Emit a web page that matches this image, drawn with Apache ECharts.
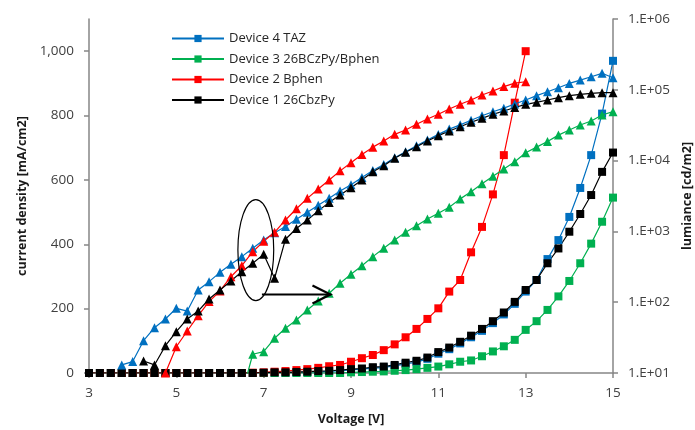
<!DOCTYPE html>
<html><head><meta charset="utf-8">
<script src="https://cdn.jsdelivr.net/npm/echarts@6/dist/echarts.min.js"></script>
<style>html,body{margin:0;padding:0;background:#fff}#c{width:695px;height:430px}</style>
</head><body><div id="c"></div>
<script>
// ---- data ----
const voltage = [3,3.25,3.5,3.75,4,4.25,4.5,4.75,5,5.25,5.5,5.75,6,6.25,6.5,6.75,7,7.25,7.5,7.75,8,8.25,8.5,8.75,9,9.25,9.5,9.75,10,10.25,10.5,10.75,11,11.25,11.5,11.75,12,12.25,12.5,12.75,13,13.25,13.5,13.75,14,14.25,14.5,14.75,15];
const xTicks = [3,5,7,9,11,13,15];
const leftTicks = [0,200,400,600,800,1000];
const rightTicks = [10,100,1000,10000,100000,1000000];
const deviceNames = ['Device 4 TAZ','Device 3 26BCzPy/Bphen','Device 2 Bphen','Device 1 26CbzPy'];

// current density [mA/cm2] (squares, left axis)
const jDev4 = [0,0,0,0,0,0,0,0,0,0,0,0,0,0,0,0, 0,1,1,2,3,4,5,7,10,12,15,17,22,28,34,44,60,74,92,111,131,155,182,215,253,289,354,413,485,575,677,806,970];
const jDev3 = [0,0,0,0,0,0,0,0,0,0,0,0,0,0,0,0,0,0,0,0,0,0,0,0, 2,3,4,5,7,9,12,16,20,27,35,39,52,67,83,103,134,161,196,238,286,341,402,470,545];
const jDev2 = [0,0,0,0,0,0,0,0,0,0,0,0,0,0,0, 1,2,4,6,9,12,16,21,25,35,46,56,71,89,111,137,168,201,253,289,375,454,555,677,840,1000, null,null,null,null,null,null,null,null];
const jDev1 = [0,0,0,0,0,0,0,0,0,0,0,0,0,0,0,0, 1,2,2,3,4,6,7,9,12,14,18,20,25,32,38,48,65,79,97,116,137,161,188,221,258,289,341,387,439,494,553,625,685];

// luminance [cd/m2] (triangles, right log axis)
const lDev4 = [null,null,null, 13,14.5,28.6,43.6,58,82,75,149,195,264,343,440,577,755,955,1175,1480,1860,2340,2950,3720,4570,5750,7240,8810,10960,13340,16220,19500,23440,27860,32000,37150,42950,49000,55000,63100,71800,82600,94000,107000,123000,137000,153000,171000,148000];
const lDev3 = [null,null,null,null,null,null,null,null,null,null,null,null,null,null, 5,18.4,20,30.9,42.8,56.1,77.6,104,134,185,248,328,440,577,755,970,1205,1496,1800,2190,2880,3630,4700,6030,7590,9660,12900,15500,18600,22900,27000,31800,36300,44100,49100];
const lDev2 = [null,null,null,null,null,null,null, 10,23.5,39.2,64.6,102,144,229,328,516,724,970,1450,2090,2930,3970,5320,7160,9330,12160,15490,18900,23500,27000,32600,38700,45100,53600,62400,71800,84500,96200,111000,124000,130000, null,null,null,null,null,null,null,null];
const lDev1 = [null,null,null,null,null, 14.8,13,24.3,38.4,58,75,111,149,199,270,354,474,218,776,1100,1450,1950,2570,3270,4140,5320,6970,8470,10800,13100,15700,18900,22500,26200,30100,34800,39500,45100,50100,56200,62400,66500,71800,77400,82600,86300,89300,91000,91000];

// annotation (data units)
const annEllipse = {v: 6.82, j: 382, rv: 0.41, rj: 157};
const annArrow = {from: [6.96, 244], to: [8.53, 244]};

// ---- chart ----
const colors = ['#0070C0','#00B050','#FF0000','#000000'];
const jSets = [jDev4, jDev3, jDev2, jDev1];
const lSets = [lDev4, lDev3, lDev2, lDev1];
const FONT = 'Open Sans';
const axisGray = '#868686';

function pairs(arr){ return voltage.map((v,i)=>[v, arr[i]]); }

const series = [];
jSets.forEach((arr,k)=>{
  series.push({
    name: deviceNames[k], type:'line', yAxisIndex:0, data: pairs(arr),
    symbol:'rect', symbolSize:8, showAllSymbol:true, clip:true,
    itemStyle:{color:colors[k]}, lineStyle:{color:colors[k], width:1.2},
    emphasis:{disabled:true}, z: 2
  });
});
lSets.forEach((arr,k)=>{
  series.push({
    name: deviceNames[k] + ' (L)', type:'line', yAxisIndex:1, data: pairs(arr),
    symbol:'triangle', symbolSize:9, showAllSymbol:true, clip:true, connectNulls:false,
    itemStyle:{color:colors[k]}, lineStyle:{color:colors[k], width:1.2},
    emphasis:{disabled:true}, z: 3
  });
});

const chart = echarts.init(document.getElementById('c'), null, {renderer:'canvas'});
chart.setOption({
  animation:false,
  backgroundColor:'#fff',
  textStyle:{fontFamily:FONT},
  grid:{left:89, right:82, top:19, bottom:57, containLabel:false, outerBoundsMode:'none'},
  legend:{
    data: deviceNames, orient:'vertical', left:166, top:27, itemWidth:52, itemHeight:9, itemGap:7.5,
    textStyle:{fontFamily:FONT, fontSize:13, color:'#262626'}, selectedMode:false
  },
  xAxis:{
    type:'value', min:3, max:15, interval:2,
    name:'Voltage [V]', nameLocation:'middle', nameGap:40,
    nameTextStyle:{fontFamily:FONT, fontWeight:'bold', fontSize:12.5, color:'#1a1a1a'},
    axisLine:{lineStyle:{color:axisGray, width:1.5}},
    axisTick:{show:true, inside:false, length:5, lineStyle:{color:axisGray, width:1.5}},
    axisLabel:{margin:13, fontSize:13.5, color:'#404040', fontFamily:FONT},
    splitLine:{show:false}
  },
  yAxis:[{
    type:'value', min:0, max:1100, interval:200, position:'left',
    name:'current density [mA/cm2]', nameLocation:'middle', nameGap:60, nameRotate:90,
    nameTextStyle:{fontFamily:FONT, fontWeight:'bold', fontSize:12.5, color:'#1a1a1a'},
    axisLine:{show:true, lineStyle:{color:axisGray, width:1.5}},
    axisTick:{show:true, inside:false, length:5, lineStyle:{color:axisGray, width:1.5}, customValues:leftTicks},
    axisLabel:{margin:15, fontSize:13.5, color:'#404040', fontFamily:FONT, customValues:leftTicks,
      formatter:v=>v.toLocaleString('en-US')},
    splitLine:{show:false}
  },{
    type:'log', logBase:10, min:10, max:1000000, position:'right',
    name:'lumiance [cd/m2]', nameLocation:'middle', nameGap:64, nameRotate:90,
    nameTextStyle:{fontFamily:FONT, fontWeight:'bold', fontSize:12.5, color:'#1a1a1a'},
    axisLine:{show:true, lineStyle:{color:axisGray, width:1.5}},
    axisTick:{show:true, inside:false, length:5, lineStyle:{color:axisGray, width:1.5}},
    minorTick:{show:false},
    axisLabel:{margin:15, fontSize:13.5, color:'#404040', fontFamily:FONT,
      formatter:v=>'1.E+' + String(Math.round(Math.log10(v))).padStart(2,'0')},
    splitLine:{show:false}
  }],
  series: series
});

// annotations: ellipse and arrow, placed through the axes
const toPx = p => chart.convertToPixel({xAxisIndex:0, yAxisIndex:0}, p);
const c0 = toPx([annEllipse.v, annEllipse.j]);
const c1 = toPx([annEllipse.v + annEllipse.rv, annEllipse.j + annEllipse.rj]);
const a0 = toPx(annArrow.from), a1 = toPx(annArrow.to);
chart.setOption({
  graphic:[
    {type:'ellipse', shape:{cx:c0[0], cy:c0[1], rx:Math.abs(c1[0]-c0[0]), ry:Math.abs(c0[1]-c1[1])},
     style:{fill:'none', stroke:'#000', lineWidth:1.2}, z:100},
    {type:'line', shape:{x1:a0[0], y1:a0[1], x2:a1[0], y2:a1[1]},
     style:{stroke:'#000', lineWidth:2.2}, z:100},
    {type:'polyline', shape:{points:[[a1[0]-18, a1[1]-9],[a1[0], a1[1]],[a1[0]-18, a1[1]+9]]},
     style:{fill:'none', stroke:'#000', lineWidth:2.2}, z:100}
  ]
});
</script></body></html>
